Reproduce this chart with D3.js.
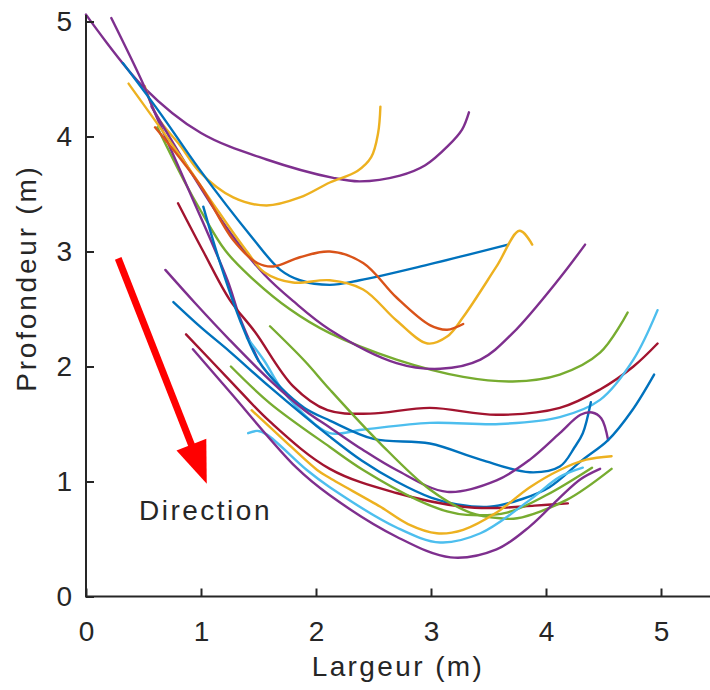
<!DOCTYPE html>
<meta charset="utf-8">
<style>
    body { margin: 0; background: #fff; }
    svg { display: block; }
    .axis text { font: 28px "Liberation Sans", Arial, sans-serif; fill: #262626; }
    .axis line { stroke: #262626; stroke-width: 2px; }
    .frame { stroke: #262626; stroke-width: 2px; }
    .curve { fill: none; stroke-width: 2.4px; stroke-linecap: round; }
    .label { font: 28px "Liberation Sans", Arial, sans-serif; fill: #262626; }
</style>
<svg width="710" height="690"></svg>
<script src="https://cdn.jsdelivr.net/npm/d3@7"></script>
<script>

    // profiles, [largeur, profondeur] in m
    var purpleTop   = [[0, 5.06], [0.5, 4.43], [1.0, 4.03], [1.57, 3.80], [2.15, 3.64], [2.38, 3.61], [2.73, 3.66], [2.95, 3.75], [3.15, 3.92], [3.27, 4.06], [3.33, 4.21]];
    var yellowTop   = [[0.51, 4.44], [0.62, 4.17], [0.82, 3.92], [0.99, 3.69], [1.28, 3.47], [1.57, 3.40], [1.86, 3.47], [2.12, 3.60], [2.36, 3.70], [2.48, 3.82], [2.54, 4.03], [2.56, 4.26]];
    var blueTop     = [[0.32, 4.64], [0.64, 4.21], [0.99, 3.71], [1.43, 3.14], [1.69, 2.84], [1.86, 2.75], [2.12, 2.71], [2.38, 2.75], [2.95, 2.88], [3.67, 3.06]];
    var yellowWave  = [[0.37, 4.46], [0.82, 3.83], [1.15, 3.35], [1.40, 3.00], [1.55, 2.82], [1.80, 2.73], [2.12, 2.75], [2.41, 2.67], [2.70, 2.40], [2.97, 2.20], [3.14, 2.26], [3.28, 2.43], [3.57, 2.87], [3.77, 3.18], [3.88, 3.06]];
    var orangeWave  = [[0.60, 4.08], [0.99, 3.58], [1.28, 3.10], [1.49, 2.90], [1.63, 2.87], [1.86, 2.95], [2.12, 3.00], [2.41, 2.90], [2.70, 2.60], [2.99, 2.36], [3.14, 2.32], [3.28, 2.37]];
    var greenTop    = [[0.62, 4.08], [0.85, 3.62], [1.0, 3.35], [1.21, 3.01], [1.43, 2.78], [1.77, 2.50], [2.12, 2.29], [2.70, 2.06], [3.28, 1.91], [3.71, 1.87], [4.12, 1.93], [4.47, 2.12], [4.71, 2.47]];
    var purpleSteep = [[0.22, 5.03], [0.5, 4.45], [0.58, 4.25], [0.9, 3.52], [1.23, 2.75], [1.34, 2.42], [1.50, 2.05]];
    var purpleMid   = [[0.57, 4.26], [0.90, 3.71], [1.25, 3.17], [1.55, 2.80], [1.80, 2.57], [2.12, 2.32], [2.70, 2.03], [3.08, 1.98], [3.43, 2.06], [3.71, 2.29], [4.12, 2.77], [4.34, 3.06]];
    var darkredMid  = [[0.80, 3.42], [1.02, 3.00], [1.25, 2.58], [1.47, 2.30], [1.80, 1.83], [2.10, 1.62], [2.47, 1.59], [2.99, 1.64], [3.57, 1.58], [4.12, 1.64], [4.47, 1.80], [4.76, 2.00], [4.97, 2.20]];
    var blueHook    = [[1.02, 3.39], [1.15, 2.95], [1.34, 2.40], [1.50, 2.05], [1.69, 1.82], [1.90, 1.64], [2.12, 1.53], [2.50, 1.37], [2.99, 1.33], [3.43, 1.19], [3.86, 1.08], [4.12, 1.13], [4.25, 1.30], [4.32, 1.42], [4.39, 1.69]];
    var lightblueMid = [[1.40, 2.25], [1.55, 2.05], [1.69, 1.82], [1.90, 1.58], [2.12, 1.42], [2.40, 1.45], [2.99, 1.51], [3.60, 1.50], [4.12, 1.56], [4.47, 1.71], [4.76, 2.06], [4.97, 2.49]];
    var purpleHump  = [[0.69, 2.84], [0.95, 2.55], [1.25, 2.23], [1.60, 1.88], [1.90, 1.62], [2.12, 1.47], [2.40, 1.28], [2.70, 1.10], [3.14, 0.91], [3.57, 1.01], [3.86, 1.19], [4.12, 1.42], [4.30, 1.58], [4.40, 1.60], [4.48, 1.55], [4.54, 1.36]];
    var blueLow     = [[0.76, 2.56], [1.0, 2.34], [1.25, 2.13], [1.60, 1.82], [2.12, 1.39], [2.40, 1.18], [2.70, 1.00], [3.00, 0.86], [3.23, 0.80], [3.51, 0.78], [3.80, 0.85], [4.03, 0.95], [4.32, 1.19], [4.54, 1.36], [4.75, 1.62], [4.94, 1.93]];
    var darkredLow  = [[0.87, 2.28], [1.25, 1.88], [1.60, 1.52], [2.12, 1.11], [2.70, 0.90], [3.28, 0.78], [3.57, 0.77], [3.90, 0.79], [4.19, 0.81]];
    var greenLow    = [[1.26, 2.00], [1.60, 1.68], [2.12, 1.30], [2.41, 1.10], [2.88, 0.84], [3.14, 0.74], [3.31, 0.71], [3.66, 0.73], [4.00, 0.88], [4.40, 1.12]];
    var greenSteep  = [[1.60, 2.35], [1.90, 2.05], [2.12, 1.80], [2.56, 1.33], [2.99, 0.93], [3.34, 0.73], [3.60, 0.68], [3.75, 0.68], [4.18, 0.84], [4.57, 1.11]];
    var yellowLow   = [[1.44, 1.62], [1.70, 1.38], [2.01, 1.10], [2.12, 1.03], [2.56, 0.78], [2.80, 0.63], [3.05, 0.55], [3.28, 0.58], [3.57, 0.73], [3.86, 0.95], [4.12, 1.10], [4.35, 1.19], [4.57, 1.22]];
    var lightblueLow = [[1.41, 1.42], [1.49, 1.44], [1.57, 1.41], [1.92, 1.10], [2.12, 0.95], [2.70, 0.60], [3.08, 0.47], [3.43, 0.55], [3.86, 0.84], [4.12, 1.04], [4.32, 1.12]];
    var purpleLow   = [[0.93, 2.15], [1.25, 1.78], [1.83, 1.12], [2.12, 0.88], [2.70, 0.52], [3.17, 0.34], [3.57, 0.41], [3.86, 0.61], [4.12, 0.86], [4.30, 1.02], [4.47, 1.11]];

    var xTicks = [0, 1, 2, 3, 4, 5];
    var yTicks = [0, 1, 2, 3, 4, 5];
    var arrowFrom = [0.28, 2.94], arrowTo = [1.05, 0.98];

    var profiles = [
        { pts: purpleTop, color: "#7E2F8E" },
        { pts: yellowTop, color: "#EDB120" },
        { pts: greenTop, color: "#77AC30" },
        { pts: purpleSteep, color: "#7E2F8E" },
        { pts: purpleMid, color: "#7E2F8E" },
        { pts: darkredMid, color: "#A2142F" },
        { pts: lightblueMid, color: "#4DBEEE" },
        { pts: blueHook, color: "#0072BD" },
        { pts: blueTop, color: "#0072BD" },
        { pts: yellowWave, color: "#EDB120" },
        { pts: orangeWave, color: "#D95319" },
        { pts: purpleHump, color: "#7E2F8E" },
        { pts: blueLow, color: "#0072BD" },
        { pts: darkredLow, color: "#A2142F" },
        { pts: greenSteep, color: "#77AC30" },
        { pts: greenLow, color: "#77AC30" },
        { pts: yellowLow, color: "#EDB120" },
        { pts: lightblueLow, color: "#4DBEEE" },
        { pts: purpleLow, color: "#7E2F8E" }
    ];

    var svg = d3.select("svg"),
        width = +svg.attr("width");

    var x = d3.scaleLinear().domain([0, 5]).range([86, 661]),
        y = d3.scaleLinear().domain([0, 5]).range([596.5, 21.5]);

    var line = d3.line()
        .x(function (d) { return x(d[0]); })
        .y(function (d) { return y(d[1]); })
        .curve(d3.curveCatmullRom.alpha(0.5));

    svg.selectAll(".curve")
        .data(profiles)
        .enter().append("path")
        .attr("class", "curve")
        .attr("stroke", function (d) { return d.color; })
        .attr("d", function (d) { return line(d.pts); });

    // axes, ticks pointing inward, no box
    var gx = svg.append("g")
        .attr("class", "axis")
        .attr("transform", "translate(0," + y(0) + ")")
        .call(d3.axisBottom(x).tickValues(xTicks).tickFormat(d3.format("d")).tickSize(-8).tickPadding(25));
    gx.select(".domain").remove();

    var gy = svg.append("g")
        .attr("class", "axis")
        .attr("transform", "translate(" + x(0) + ",0)")
        .call(d3.axisLeft(y).tickValues(yTicks).tickFormat(d3.format("d")).tickSize(-8).tickPadding(14));
    gy.select(".domain").remove();

    svg.append("line").attr("class", "frame")
        .attr("x1", x(0)).attr("x2", width)
        .attr("y1", y(0)).attr("y2", y(0));
    svg.append("line").attr("class", "frame")
        .attr("x1", x(0)).attr("x2", x(0))
        .attr("y1", y(0) + 1).attr("y2", 15);

    // direction arrow
    var ax0 = x(arrowFrom[0]), ay0 = y(arrowFrom[1]),
        ax1 = x(arrowTo[0]), ay1 = y(arrowTo[1]);
    var len = Math.hypot(ax1 - ax0, ay1 - ay0),
        ux = (ax1 - ax0) / len, uy = (ay1 - ay0) / len,
        headLen = 42, headHalf = 16;
    var bx = ax1 - ux * headLen, by = ay1 - uy * headLen;
    svg.append("line")
        .attr("x1", ax0).attr("y1", ay0)
        .attr("x2", bx + ux * 2).attr("y2", by + uy * 2)
        .attr("stroke", "#FF0000").attr("stroke-width", 7);
    svg.append("path")
        .attr("fill", "#FF0000")
        .attr("d", "M" + ax1 + "," + ay1
            + "L" + (bx - uy * headHalf) + "," + (by + ux * headHalf)
            + "L" + (bx + uy * headHalf) + "," + (by - ux * headHalf) + "Z");

    svg.append("text").attr("class", "label")
        .attr("x", 139).attr("y", 520)
        .style("letter-spacing", "2.5px")
        .text("Direction");

    svg.append("text").attr("class", "label")
        .attr("x", 398).attr("y", 676)
        .attr("text-anchor", "middle")
        .style("letter-spacing", "2.4px")
        .text("Largeur (m)");

    svg.append("text").attr("class", "label")
        .attr("transform", "translate(36,278) rotate(-90)")
        .attr("text-anchor", "middle")
        .style("letter-spacing", "2.8px")
        .text("Profondeur (m)");

</script>
